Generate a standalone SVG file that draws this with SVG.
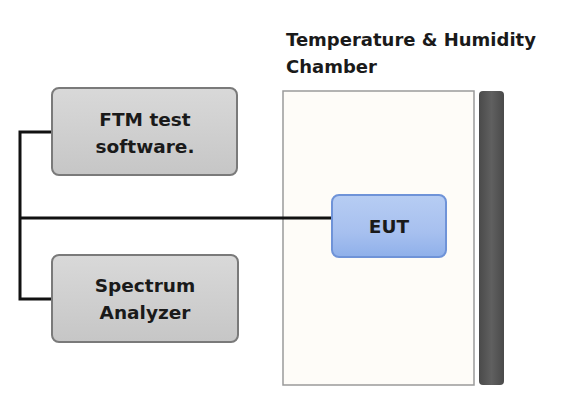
<svg xmlns="http://www.w3.org/2000/svg" width="573" height="400" viewBox="0 0 573 400">
<defs>
<linearGradient id="gray" x1="0" y1="0" x2="0" y2="1">
<stop offset="0" stop-color="#d9d9d9"/><stop offset="1" stop-color="#c6c6c6"/>
</linearGradient>
<linearGradient id="blue" x1="0" y1="0" x2="0" y2="1">
<stop offset="0" stop-color="#b7cdf3"/><stop offset="0.6" stop-color="#a7c0ef"/><stop offset="1" stop-color="#8fb0ea"/>
</linearGradient>
<linearGradient id="bar" x1="0" y1="0" x2="1" y2="0">
<stop offset="0" stop-color="#4a4a4a"/><stop offset="0.5" stop-color="#606060"/><stop offset="1" stop-color="#4a4a4a"/>
</linearGradient>
</defs>
<style>
.box{fill:url(#gray);stroke:#7a7a7a;stroke-width:2}
.lbl{font-family:"DejaVu Sans","Liberation Sans",sans-serif;font-weight:bold;font-size:18.5px;fill:#1a1a1a;text-anchor:middle}
.ttl{font-family:"DejaVu Sans","Liberation Sans",sans-serif;font-weight:bold;font-size:18px;fill:#1a1a1a}
.wire{fill:none;stroke:#111;stroke-width:3}
</style>
<rect width="573" height="400" fill="#ffffff"/>
<g id="chamber">
<rect x="283" y="91" width="191" height="294" fill="#fefcf8" stroke="#9a9a9a" stroke-width="1.5"/>
<rect x="479" y="91" width="25" height="294" rx="4" fill="url(#bar)"/>
<text class="ttl" x="286" y="46">Temperature &amp; Humidity</text>
<text class="ttl" x="286" y="73">Chamber</text>
</g>
<g id="connectors">
<path class="wire" d="M52 132 H20 V299 H52"/>
<path class="wire" d="M20 218 H332"/>
</g>
<g id="ftm">
<rect class="box" x="52" y="88" width="185" height="87" rx="7"/>
<text class="lbl" x="145" y="126">FTM test</text>
<text class="lbl" x="145" y="153">software.</text>
</g>
<g id="spectrum">
<rect class="box" x="52" y="255" width="186" height="87" rx="7"/>
<text class="lbl" x="145" y="292">Spectrum</text>
<text class="lbl" x="145" y="319">Analyzer</text>
</g>
<g id="eut">
<rect x="332" y="195" width="114" height="62" rx="7" fill="url(#blue)" stroke="#6f93d8" stroke-width="2"/>
<text class="lbl" x="389" y="233">EUT</text>
</g>
</svg>
